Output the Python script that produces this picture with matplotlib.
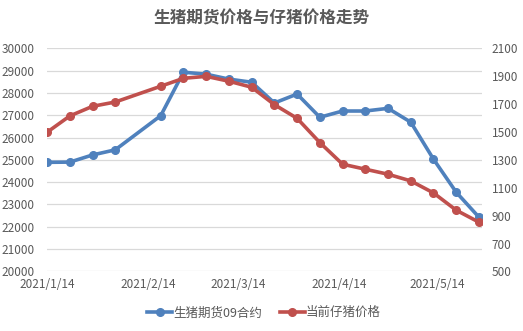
import datetime as dt
import matplotlib
matplotlib.use("Agg")
import matplotlib.pyplot as plt
import matplotlib.dates as mdates
from matplotlib.ticker import FuncFormatter

plt.rcParams['font.family'] = ['Noto Sans CJK SC', 'DejaVu Sans']

# weekly observations, 2021
dates = ["2021-01-14", "2021-01-21", "2021-01-28", "2021-02-04", "2021-02-18",
         "2021-02-25", "2021-03-04", "2021-03-11", "2021-03-18", "2021-03-25",
         "2021-04-01", "2021-04-08", "2021-04-15", "2021-04-22", "2021-04-29",
         "2021-05-06", "2021-05-13", "2021-05-20", "2021-05-27"]
futures = [24890, 24900, 25220, 25450, 26980, 28930, 28840, 28620, 28480, 27550,
           27950, 26910, 27190, 27190, 27310, 26690, 25030, 23550, 22430]
piglet = [1498, 1615, 1684, 1715, 1828, 1885, 1899, 1864, 1821, 1696,
          1598, 1424, 1269, 1233, 1197, 1149, 1063, 939, 853]
tick_dates = ["2021-01-14", "2021-02-14", "2021-03-14", "2021-04-14", "2021-05-14"]

x = [dt.datetime.strptime(d, "%Y-%m-%d") for d in dates]
xt = [dt.datetime.strptime(d, "%Y-%m-%d") for d in tick_dates]

blue = "#4F81BD"
red = "#C0504D"
txt = "#595959"
grid = "#D9D9D9"

fig = plt.figure(figsize=(5.23, 3.31), dpi=100)
ax = fig.add_axes([0.090, 0.180, 0.832, 0.674])
ax2 = ax.twinx()

l1, = ax.plot(x, futures, color=blue, lw=2.6, marker="o", ms=5.5, label="生猪期货09合约", zorder=3)
l2, = ax2.plot(x, piglet, color=red, lw=2.6, marker="o", ms=5.5, label="当前仔猪价格", zorder=3)

ax.set_ylim(20000, 30000)
ax.set_yticks(range(20000, 30001, 1000))
ax2.set_ylim(500, 2100)
ax2.set_yticks(range(500, 2101, 200))
ax.set_xlim(x[0], x[-1] + dt.timedelta(days=1))
ax.set_xticks(xt)
ax.xaxis.set_major_formatter(FuncFormatter(
    lambda v, p: "{0.year}/{0.month}/{0.day}".format(mdates.num2date(v))))

ax.grid(axis="y", color=grid, lw=0.9)
ax.set_axisbelow(True)
for a in (ax, ax2):
    for s in a.spines.values():
        s.set_visible(False)
    a.tick_params(length=0, labelsize=8.5, labelcolor=txt)
ax.tick_params(axis="y", pad=9)
ax2.tick_params(axis="y", pad=7)
ax.tick_params(axis="x", pad=5)

fig.suptitle("生猪期货价格与仔猪价格走势", x=0.5, y=0.97, fontsize=12,
             fontweight="bold", color=txt)
fig.legend(handles=[l1, l2], loc="center", bbox_to_anchor=(0.505, 0.055), ncol=2,
           frameon=False, fontsize=9, labelcolor=txt, handlelength=2.0,
           columnspacing=1.4, handletextpad=0.1)

fig.savefig("out.png", dpi=100)
